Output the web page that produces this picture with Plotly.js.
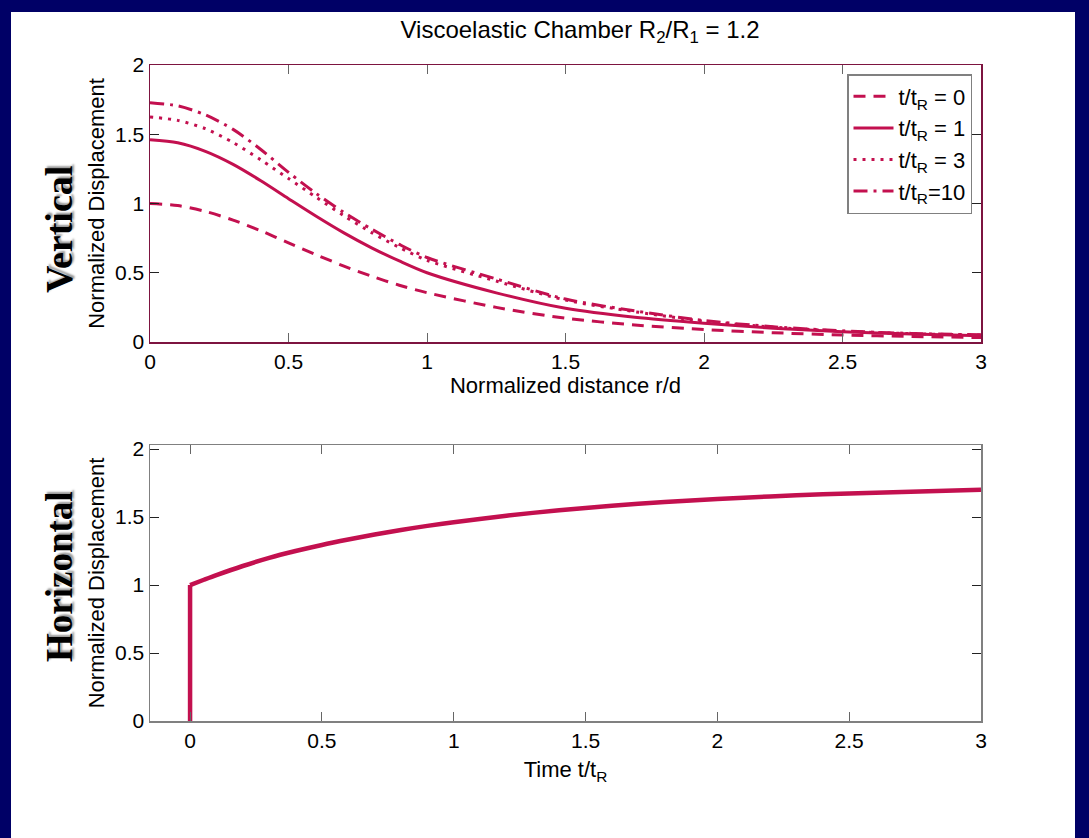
<!DOCTYPE html>
<html>
<head>
<meta charset="utf-8">
<script src="https://cdn.plot.ly/plotly-3.0.1.min.js"></script>
<style>
html,body{margin:0;padding:0;background:#000066;}
#chart{width:1089px;height:838px;}
</style>
</head>
<body>
<div id="chart"></div>
<script>
// ---- data ----
const rDist    = [0, 0.1, 0.2, 0.3, 0.4, 0.5, 0.6, 0.7, 0.8, 0.9, 1.0, 1.25, 1.5, 1.75, 2.0, 2.25, 2.5, 2.75, 3.0];
const vert_t0  = [1.00, 0.985, 0.943, 0.880, 0.803, 0.716, 0.630, 0.548, 0.475, 0.410, 0.356, 0.250, 0.172, 0.123, 0.090, 0.067, 0.051, 0.040, 0.032];
const vert_t1  = [1.46, 1.438, 1.376, 1.282, 1.164, 1.035, 0.908, 0.788, 0.680, 0.585, 0.500, 0.355, 0.243, 0.178, 0.135, 0.100, 0.074, 0.057, 0.045];
const vert_t3  = [1.625, 1.600, 1.540, 1.440, 1.315, 1.180, 1.045, 0.912, 0.790, 0.683, 0.590, 0.440, 0.303, 0.219, 0.150, 0.107, 0.078, 0.060, 0.050];
const vert_t10 = [1.728, 1.705, 1.640, 1.535, 1.390, 1.225, 1.072, 0.935, 0.815, 0.705, 0.610, 0.455, 0.310, 0.225, 0.155, 0.110, 0.080, 0.062, 0.052];
const seriesNames = ["t/t<sub>R</sub> = 0", "t/t<sub>R</sub> = 1", "t/t<sub>R</sub> = 3", "t/t<sub>R</sub>=10"];

// horizontal displacement: instantaneous jump at t = 0, then creep
const jumpT = [0, 0];
const jumpV = [0, 1.0];
const timeT = [0, 0.05, 0.1, 0.2, 0.3, 0.4, 0.5, 0.6, 0.7, 0.8, 0.9, 1.0, 1.2, 1.4, 1.6, 1.8, 2.0, 2.2, 2.4, 2.6, 2.8, 3.0];
const horiz = [1.0, 1.037, 1.073, 1.14, 1.20, 1.25, 1.295, 1.335, 1.372, 1.405, 1.435, 1.462, 1.51, 1.55, 1.583, 1.61, 1.633, 1.652, 1.667, 1.679, 1.69, 1.70];

const xTicks = [0, 0.5, 1, 1.5, 2, 2.5, 3];
const yTicks = [0, 0.5, 1, 1.5, 2];

// ---- styling ----
const W = 1089, H = 838;
const curveColor = '#c3104f';
const frameTop = '#7d1440';
const FONT = 'Liberation Sans, Arial, sans-serif';
const px = v => v / W;
const py = v => 1 - v / H;

const dashes = ['12px,8px', 'solid', '3px,6px', '14px,6px,3px,6px'];
const vSeries = [vert_t0, vert_t1, vert_t3, vert_t10];

const traces = vSeries.map((ys, i) => ({
  x: rDist, y: ys, type: 'scatter', mode: 'lines',
  name: seriesNames[i], xaxis: 'x', yaxis: 'y',
  line: {color: curveColor, width: 3, dash: dashes[i], shape: 'spline', smoothing: 0.8},
  hoverinfo: 'x+y'
}));
traces.push({
  x: jumpT, y: jumpV, type: 'scatter', mode: 'lines', showlegend: false,
  xaxis: 'x2', yaxis: 'y2', name: 'Horizontal (jump)',
  line: {color: curveColor, width: 4.5}
});
traces.push({
  x: timeT, y: horiz, type: 'scatter', mode: 'lines', showlegend: false,
  xaxis: 'x2', yaxis: 'y2', name: 'Horizontal',
  line: {color: curveColor, width: 4.5, shape: 'spline', smoothing: 0.8}
});

const axCommon = {
  ticks: 'inside', ticklen: 9, tickwidth: 1, showgrid: false, zeroline: false,
  showline: true, linewidth: 1.5, mirror: 'allticks',
  tickfont: {family: FONT, size: 21, color: '#000'}, automargin: false
};

const layout = {
  width: W, height: H,
  paper_bgcolor: '#000066', plot_bgcolor: '#ffffff',
  margin: {l: 0, r: 0, t: 0, b: 0},
  font: {family: FONT, color: '#000'},
  showlegend: true,
  title: {text: 'Viscoelastic Chamber R<sub>2</sub>/R<sub>1</sub> = 1.2',
          font: {family: FONT, size: 24, color: '#000'},
          x: 580 / W, xanchor: 'center', y: py(30), yanchor: 'middle'},
  xaxis: Object.assign({}, axCommon, {
    domain: [px(150), px(981)], anchor: 'y', range: [0, 3],
    tickvals: xTicks, linecolor: frameTop, tickcolor: '#666',
    title: {text: 'Normalized distance r/d', font: {family: FONT, size: 22}, standoff: 4}
  }),
  yaxis: Object.assign({}, axCommon, {
    domain: [py(342), py(65)], anchor: 'x', range: [0, 2],
    tickvals: yTicks, linecolor: frameTop, tickcolor: '#222',
    title: {text: 'Normalized Displacement', font: {family: FONT, size: 22}, standoff: 4}
  }),
  xaxis2: Object.assign({}, axCommon, {
    domain: [px(150), px(981)], anchor: 'y2', range: [-0.152, 3],
    tickvals: xTicks, linecolor: '#808080', tickcolor: '#666',
    title: {text: 'Time t/t<sub>R</sub>', font: {family: FONT, size: 22}, standoff: 11}
  }),
  yaxis2: Object.assign({}, axCommon, {
    domain: [py(721), py(445)], anchor: 'x2', range: [0, 2.03],
    tickvals: yTicks, linecolor: '#808080', tickcolor: '#222',
    title: {text: 'Normalized Displacement', font: {family: FONT, size: 22}, standoff: 4}
  }),
  legend: {
    x: px(972), y: py(74), xanchor: 'right', yanchor: 'top',
    bgcolor: '#ffffff', bordercolor: '#808080', borderwidth: 1.5,
    font: {family: FONT, size: 22, color: '#000'}, tracegroupgap: 0, itemwidth: 40
  },
  shapes: [{
    type: 'rect', xref: 'paper', yref: 'paper', layer: 'below',
    x0: px(11), x1: px(1075), y0: 0, y1: py(12),
    fillcolor: '#ffffff', line: {width: 0}
  }],
  annotations: [
    {text: '<b>Vertical</b>', xref: 'paper', yref: 'paper', x: px(59), y: py(230),
     xanchor: 'center', yanchor: 'middle', textangle: -90, showarrow: false,
     font: {family: 'Liberation Serif, Times New Roman, serif', size: 38, color: '#000', shadow: '2px 2px 2px #999'}},
    {text: '<b>Horizontal</b>', xref: 'paper', yref: 'paper', x: px(59), y: py(577),
     xanchor: 'center', yanchor: 'middle', textangle: -90, showarrow: false,
     font: {family: 'Liberation Serif, Times New Roman, serif', size: 37, color: '#000', shadow: '2px 2px 2px #999'}}
  ]
};

Plotly.newPlot('chart', traces, layout, {displayModeBar: false, staticPlot: true});
</script>
</body>
</html>
